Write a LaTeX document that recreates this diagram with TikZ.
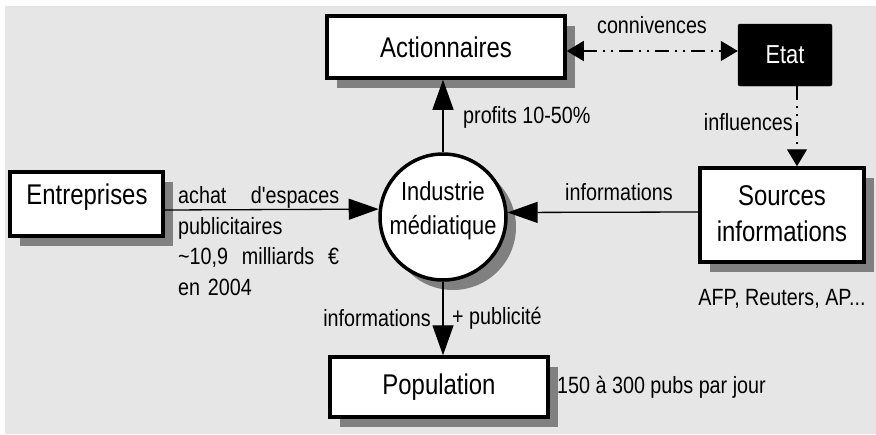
\documentclass[tikz,border=0pt]{standalone}
\usepackage{fontspec}
\setmainfont{Liberation Sans}[FakeStretch=0.84,Ligatures=TeXOff]
\usetikzlibrary{arrows.meta,shadows,calc}
\definecolor{bggray}{HTML}{E6E6E6}
\definecolor{shgray}{HTML}{808080}
\begin{document}
\begin{tikzpicture}[x=1pt,y=-1pt,
  shadowed/.style={drop shadow={shadow xshift=10pt,shadow yshift=-10pt,fill=shgray,opacity=1}},
  box/.style={draw,line width=3.5pt,fill=white,shadowed,inner sep=0pt,rectangle},
  bigtext/.style={font=\fontsize{28.5}{36}\selectfont,align=center,inner sep=0pt},
  circtext/.style={font=\fontsize{26}{34}\selectfont,align=center,inner sep=0pt},
  lbl/.style={font=\fontsize{23.5}{30.7}\selectfont,inner sep=0pt},
  conn/.style={line width=1.3pt,-{Triangle[length=30pt,width=21pt]}},
  dd/.style={line width=1.3pt,dash pattern=on 14pt off 6pt on 2pt off 6pt on 2pt off 6pt}
]
\useasboundingbox (0,0) rectangle (876,434);
\fill[bggray] (5,6) rectangle (876,434);

% nodes
\node[box,minimum width=238pt,minimum height=62pt,bigtext] (act) at (446,47) {Actionnaires};
\node[draw=black,fill=black,rounded corners=2pt,minimum width=94pt,minimum height=62pt,
      text=white,font=\fontsize{26}{30}\selectfont,inner sep=0pt] (etat) at (785,55) {Etat};
\node[box,minimum width=164pt,minimum height=94pt] (src) at (782,215) {};
\node[bigtext] (srclab) at (782,214) {Sources\\informations};
\node[box,circle,minimum size=126pt] (circ) at (443,217) {};
\node[circtext] (circlab) at (443,211) {Industrie\\médiatique};
\node[box,minimum width=153pt,minimum height=64pt] (ent) at (86.5,204) {};
\node[bigtext] (entlab) at (87,197) {Entreprises};
\node[box,minimum width=218pt,minimum height=60pt,bigtext] (pop) at (439,387) {Population};

% helper coordinates
\coordinate (cy) at (0,51);
\coordinate (ix) at (797,0);
\coordinate (ey) at (0,210);
\coordinate (sy) at (0,212);

% connectors
\draw[conn] (circ.north) -- (circ.north |- act.south);
\draw[dd,{Triangle[length=17pt,width=20pt]}-{Triangle[length=17pt,width=20pt]}]
  (act.east |- cy) -- (etat.west |- cy);
\draw[dd,-{Triangle[length=17pt,width=20pt]}] (etat.south -| ix) -- (src.north -| ix);
\draw[conn] (src.west |- sy) -- (circ.4.5);
\draw[conn] (ent.east |- ey) -- (circ.173.7);
\draw[conn] (circ.south) -- (circ.south |- pop.north);

% labels
\node[lbl] (lconn) at (652,25) {connivences};
\node[lbl,anchor=west] (lprof) at (463,117) {profits 10-50\%};
\node[lbl,anchor=east] (linfl) at (793,122) {influences};
\node[lbl] (linfo1) at (619,192) {informations};
\node[lbl] (lafp) at (782,299) {AFP, Reuters, AP...};
\node[lbl,anchor=east] (linfo2) at (431,318) {informations};
\node[lbl,anchor=west] (lpub) at (452,318) {+ publicité};
\node[lbl,anchor=west] (lpubs) at (557,387) {150 à 300 pubs par jour};
\node[lbl,anchor=west,text width=161pt,align=left] (lachat) at (178,241)
  {\makebox[161pt][l]{achat\hfill d'espaces}\\publicitaires\\\makebox[161pt][l]{\textasciitilde10,9\hfill milliards\hfill €}\\en 2004};
\end{tikzpicture}
\end{document}
